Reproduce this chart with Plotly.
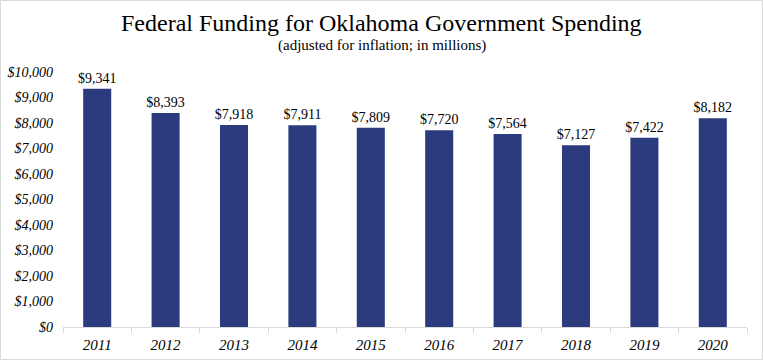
import plotly.graph_objects as go

years = ["2011", "2012", "2013", "2014", "2015", "2016", "2017", "2018", "2019", "2020"]
funding = [9341, 8393, 7918, 7911, 7809, 7720, 7564, 7127, 7422, 8182]
y_ticks = [0, 1000, 2000, 3000, 4000, 5000, 6000, 7000, 8000, 9000, 10000]
y_tick_labels = ["$" + format(v, ",") for v in y_ticks]
bar_labels = ["$" + format(v, ",") for v in funding]

W, H = 763, 360
ML, MR, MT, MB = 63, 16, 72, 33
PW, PH = W - ML - MR, H - MT - MB
FONT = "Liberation Serif, DejaVu Serif, serif"

fig = go.Figure(go.Bar(
    x=years, y=funding, text=bar_labels, textposition="outside",
    constraintext="none",
    textfont=dict(family=FONT, size=14, color="#000000"),
    marker=dict(color="#2c3a7e", line=dict(width=0)),
    cliponaxis=False, hoverinfo="skip",
))

fig.update_layout(
    width=W, height=H,
    margin=dict(l=ML, r=MR, t=MT, b=MB, autoexpand=False),
    paper_bgcolor="white", plot_bgcolor="white",
    bargap=0.59, showlegend=False,
    font=dict(family=FONT, color="#000000"),
    xaxis=dict(
        automargin=False,
        showline=True, linecolor="#d9d9d9", linewidth=1,
        ticks="outside", tickson="boundaries", ticklen=5, tickcolor="#d9d9d9",
        tickfont=dict(family=FONT, size=15, style="italic", color="#000000"),
        ticklabelstandoff=4,
        showgrid=False,
    ),
    yaxis=dict(
        automargin=False,
        range=[0, 10000], tickvals=y_ticks, ticktext=y_tick_labels,
        showgrid=False, zeroline=False, showline=False,
        tickfont=dict(family=FONT, size=14, style="italic", color="#000000"),
        ticks="", ticklabelstandoff=9,
    ),
    annotations=[
        dict(text="Federal Funding for Oklahoma Government Spending",
             xref="paper", yref="paper", x=(W / 2 - ML) / PW, y=(PH + MT - 23) / PH,
             xanchor="center", yanchor="middle", showarrow=False,
             font=dict(family=FONT, size=24, color="#000000")),
        dict(text="(adjusted for inflation; in millions)",
             xref="paper", yref="paper", x=(W / 2 - ML) / PW, y=(PH + MT - 46) / PH,
             xanchor="center", yanchor="middle", showarrow=False,
             font=dict(family=FONT, size=15, color="#000000")),
    ],
    shapes=[dict(
        type="rect", xref="paper", yref="paper",
        x0=(0.5 - ML) / PW, x1=(W - 0.5 - ML) / PW,
        y0=-(MB - 0.5) / PH, y1=(PH + MT - 0.5) / PH,
        line=dict(color="#d9d9d9", width=1), layer="below",
    )],
)

fig.write_html("out.html", config={"displayModeBar": False},
               post_script="document.body.style.margin='0';document.body.style.padding='0';")
